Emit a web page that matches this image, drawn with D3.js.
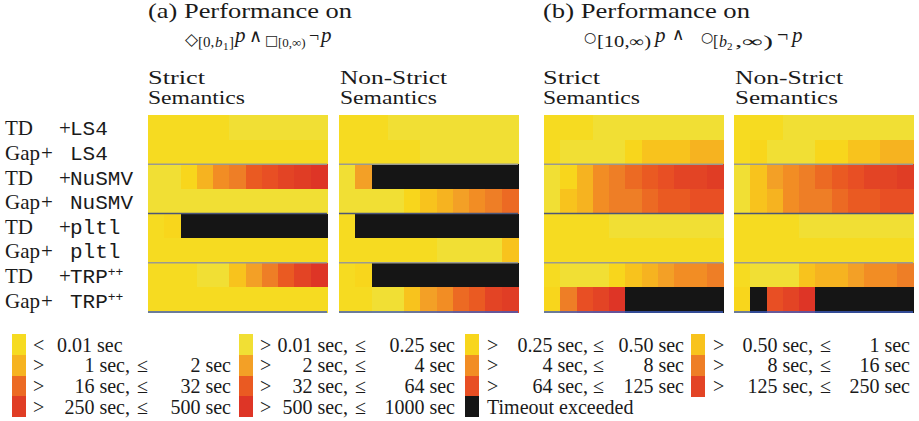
<!DOCTYPE html>
<html>
<head>
<meta charset="utf-8">
<script src="https://cdn.jsdelivr.net/npm/d3@7"></script>
<style>
  html, body { margin: 0; padding: 0; background: #fff; }
  svg { display: block; }
  text { fill: #1a1a1a; }
</style>
</head>
<body>
<div id="chart"></div>
<script>
// Solver configurations (row labels)
const methods = ["TD", "Gap", "TD", "Gap", "TD", "Gap", "TD", "Gap"];
const tools = ["LS4", "LS4", "NuSMV", "NuSMV", "pltl", "pltl", "TRP", "TRP"];

// Parameter steps along each heat strip
const steps = [0, 1, 2, 3, 4, 5, 6, 7, 8, 9, 10];

// Run-time bins: lower / upper bound (seconds, as printed) and colour
const binLower = [null, "0.01", "0.25", "0.50", "1", "2", "4", "8", "16", "32", "64", "125", "250", "500", null];
const binUpper = ["0.01", "0.25", "0.50", "1", "2", "4", "8", "16", "32", "64", "125", "250", "500", "1000", null];
const binColors = ["#F6DB21", "#F1DF34", "#F8D61C", "#F8C31D", "#F6B320", "#F3A026",
                   "#F28D24", "#EE7E26", "#EC6A23", "#EA5A22", "#E84F24", "#E34425",
                   "#E03D25", "#DE3526", "#151515"];
const T = 14; // timeout bin

// (a) strict semantics
const aStrict = [
  [0, 0, 0, 0, 0, 1, 1, 1, 1, 1, 1],
  [0, 0, 0, 0, 0, 0, 0, 0, 0, 0, 0],
  [1, 1, 2, 4, 6, 7, 9, 10, 11, 12, 13],
  [1, 1, 1, 1, 1, 1, 1, 1, 1, 1, 1],
  [0, 2, T, T, T, T, T, T, T, T, T],
  [0, 0, 0, 0, 0, 0, 0, 0, 0, 0, 0],
  [0, 0, 0, 1, 1, 3, 5, 7, 9, 11, 13],
  [0, 0, 0, 0, 0, 0, 0, 0, 0, 0, 0]
];
// (a) non-strict semantics
const aNonStrict = [
  [0, 0, 0, 1, 1, 1, 1, 1, 1, 1, 1],
  [0, 0, 0, 0, 0, 1, 1, 1, 1, 1, 1],
  [1, 5, T, T, T, T, T, T, T, T, T],
  [1, 1, 1, 1, 2, 3, 4, 5, 6, 7, 8],
  [0, T, T, T, T, T, T, T, T, T, T],
  [0, 0, 0, 0, 0, 0, 1, 1, 1, 1, 3],
  [0, 2, T, T, T, T, T, T, T, T, T],
  [0, 0, 1, 1, 3, 5, 6, 8, 9, 11, 12]
];
// (b) strict semantics
const bStrict = [
  [0, 0, 0, 1, 1, 1, 1, 1, 1, 1, 1],
  [0, 1, 1, 1, 1, 2, 3, 3, 3, 4, 4],
  [1, 2, 4, 6, 7, 8, 9, 10, 11, 11, 12],
  [1, 3, 4, 6, 7, 7, 8, 9, 9, 10, 10],
  [0, 0, 0, 0, 1, 1, 1, 1, 1, 1, 1],
  [0, 0, 0, 0, 0, 0, 0, 0, 0, 0, 0],
  [0, 1, 1, 1, 2, 3, 4, 5, 6, 6, 7],
  [2, 7, 10, 11, 13, T, T, T, T, T, T]
];
// (b) non-strict semantics
const bNonStrict = [
  [0, 0, 0, 1, 1, 1, 1, 1, 1, 1, 1],
  [0, 2, 1, 1, 1, 2, 2, 3, 3, 4, 4],
  [1, 3, 5, 6, 7, 8, 9, 10, 11, 11, 12],
  [1, 3, 4, 6, 7, 7, 8, 9, 9, 10, 10],
  [0, 0, 0, 0, 1, 1, 1, 1, 1, 1, 1],
  [0, 0, 0, 0, 0, 0, 0, 0, 0, 0, 0],
  [0, 1, 1, 1, 3, 4, 4, 5, 6, 6, 7],
  [2, T, 10, 11, 13, T, T, T, T, T, T]
];

const panels = [
  { x: 148, grid: aStrict,    head: ["Strict", "Semantics"],     hx: 148, hw: [57, 97] },
  { x: 339, grid: aNonStrict, head: ["Non-Strict", "Semantics"], hx: 340, hw: [107, 97] },
  { x: 544, grid: bStrict,    head: ["Strict", "Semantics"],     hx: 543, hw: [57, 97] },
  { x: 734, grid: bNonStrict, head: ["Non-Strict", "Semantics"], hx: 735, hw: [108, 103] }
];

const W = 919, H = 421;
const serif = "'Liberation Serif', 'Times New Roman', serif";
const mono = "'Liberation Mono', 'DejaVu Sans Mono', monospace";
const symf = "'DejaVu Sans', sans-serif";

const svg = d3.select("#chart").append("svg")
  .attr("width", W).attr("height", H);

// text helper: always sets the family explicitly
function label(x, y, s, size, opts = {}) {
  const t = svg.append("text").attr("x", x).attr("y", y)
    .style("font-family", opts.family || serif)
    .style("font-size", size + "px")
    .style("font-style", opts.italic ? "italic" : "normal")
    .attr("text-anchor", opts.anchor || "start")
    .text(s);
  if (opts.len) t.attr("textLength", opts.len).attr("lengthAdjust", "spacingAndGlyphs");
  return t;
}

const color = d3.scaleOrdinal().domain(d3.range(binColors.length)).range(binColors);
const xCol = d3.scaleBand().domain(steps).range([0, 179]);
const yRow = d3.scaleBand().domain(d3.range(methods.length)).range([115, 312]);

// Heat strips
panels.forEach(p => {
  const g = svg.append("g").attr("transform", `translate(${p.x},0)`);
  p.grid.forEach((row, r) => {
    g.selectAll(null).data(row).enter().append("rect")
      .attr("x", (d, i) => xCol(steps[i]))
      .attr("y", yRow(r))
      .attr("width", xCol.bandwidth() + 0.6)
      .attr("height", yRow.bandwidth() + 0.6)
      .attr("fill", d => color(d))
      .attr("shape-rendering", "crispEdges");
  });
  // group separators after every pair of rows
  const seps = [
    { r: 2, c: "#9A9A90" }, { r: 4, c: "#4C5678" },
    { r: 6, c: "#9A9A90" }, { r: 8, c: "#3C5CC0" }
  ];
  g.selectAll(null).data(seps).enter().append("line")
    .attr("x1", 0).attr("x2", 179)
    .attr("y1", d => d.r < 8 ? yRow(d.r) : yRow(7) + yRow.bandwidth())
    .attr("y2", d => d.r < 8 ? yRow(d.r) : yRow(7) + yRow.bandwidth())
    .attr("stroke", d => d.c).attr("stroke-width", 1.4);

  // column header
  p.head.forEach((t, i) => label(p.hx, 84 + i * 20, t, 19, { len: p.hw[i] }));
});

// Row labels
methods.forEach((m, r) => {
  const y = yRow(r) + yRow.bandwidth() / 2 + 8;
  label(5, y, m, 21, { len: m === "TD" ? 28 : 35 });
  label(m === "TD" ? 59 : 41, y, "+", 21);
  const t = label(70, y, tools[r] === "TRP" ? "" : tools[r], 21, { family: mono });
  if (tools[r] === "TRP") {
    t.append("tspan").text("TRP");
    t.append("tspan").attr("dy", -7).style("font-size", "13px").text("++");
  }
});

// Panel titles
label(148, 18, "(a) Performance on", 21, { len: 204 });
label(543, 18, "(b) Performance on", 21, { len: 207 });

// Formula (a): ◇[0,b1] p ∧ □[0,∞) ¬p
label(185, 45, "◇", 17, { family: symf });
label(198, 47, "[0,", 15);
label(215, 47, "b", 15, { italic: true });
label(223, 50, "1", 11);
label(229, 47, "]", 15);
label(235, 42, "p", 21, { italic: true });
label(249, 42, "∧", 18, { family: symf });
label(265, 45, "□", 14, { family: symf });
label(278, 47, "[0,∞)", 13);
label(309, 42, "¬", 18);
label(321, 42, "p", 21, { italic: true });

// Formula (b): ○[10,∞) p ∧ ○[b2,∞) ¬p
label(584, 42, "○", 14, { family: symf });
label(597, 47, "[10,∞)", 16, { len: 54 });
label(655, 42, "p", 21, { italic: true });
label(672, 40, "∧", 17, { family: symf });
label(701, 42, "○", 14, { family: symf });
label(713, 47, "[", 16);
label(719, 47, "b", 16, { italic: true });
label(727, 50, "2", 11);
label(735, 47, ",∞)", 16, { len: 38 });
label(777, 42, "¬", 20);
label(792, 42, "p", 21, { italic: true });

// Legend: four columns, filled column by column
const legendCols = [
  { sw: 12,  start: 33,  comma: 130, leq: 137, end: 231 },
  { sw: 239, start: 260, comma: 348, leq: 355, end: 455 },
  { sw: 465, start: 487, comma: 588, leq: 593, end: 684 },
  { sw: 691, start: 713, comma: 813, leq: 820, end: 910 }
];
const legendTop = 334, legendRow = 20.75;
binColors.forEach((c, b) => {
  const col = legendCols[b % 4];
  const row = Math.floor(b / 4);
  const y0 = legendTop + row * legendRow;
  svg.append("rect").attr("x", col.sw).attr("y", y0).attr("width", 14).attr("height", legendRow + 0.4)
    .attr("fill", c).attr("shape-rendering", "crispEdges");
  const by = y0 + 17.5;
  if (binLower[b] === null && binUpper[b] === null) {
    label(col.start, by, "Timeout exceeded", 20);
  } else if (binLower[b] === null) {
    label(col.start, by, "<", 20);
    label(col.start + 24, by, binUpper[b] + " sec", 20);
  } else {
    label(col.start, by, ">", 20);
    label(col.comma, by, binLower[b] + " sec,", 20, { anchor: "end" });
    const v = label(col.end, by, binUpper[b] + " sec", 20, { anchor: "end" });
    const vStart = col.end - v.node().getComputedTextLength();
    label(Math.min(col.leq, vStart - 14), by, "≤", 20);
  }
});
</script>
</body>
</html>
